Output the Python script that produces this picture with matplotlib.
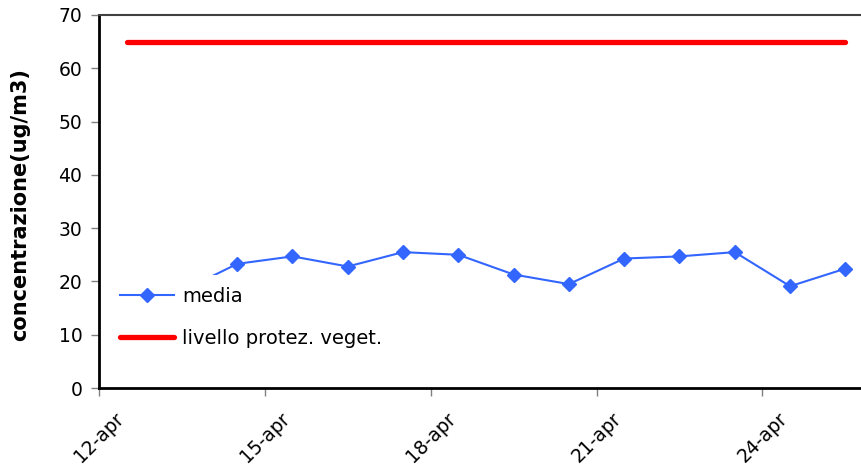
import matplotlib
matplotlib.use("Agg")
import matplotlib.pyplot as plt
import numpy as np

plt.rcParams['font.family'] = ['DejaVu Sans']

dates = ["12-apr", "13-apr", "14-apr", "15-apr", "16-apr", "17-apr", "18-apr",
         "19-apr", "20-apr", "21-apr", "22-apr", "23-apr", "24-apr", "25-apr"]
media = [19.0, 18.2, 23.3, 24.7, 22.8, 25.5, 25.0, 21.3, 19.5, 24.3, 24.7, 25.5, 19.1, 22.4]
livello = [65] * 14
tick_idx = [0, 3, 6, 9, 12]

W, H = 862, 473
fig = plt.figure(figsize=(W / 100, H / 100), dpi=100)
left, right, bottom, top = 99, 873, 388, 15
ax = fig.add_axes([left / W, (H - bottom) / H, (right - left) / W, (bottom - top) / H])

x = np.arange(len(dates)) + 0.5
ax.plot(x, media, color='#3366FF', lw=1.5, marker='D', ms=7, label='media', zorder=3)
ax.plot(x, livello, color='#FF0000', lw=3.8, solid_capstyle='round',
        label='livello protez. veget.', zorder=3)

ax.set_xlim(0, 14)
ax.set_ylim(0, 70)
ax.set_yticks(range(0, 71, 10))
ax.set_xticks(tick_idx)
ax.set_xticklabels([dates[i] for i in tick_idx], rotation=45, ha='center')
ax.tick_params(axis='both', labelsize=13.5, direction='out', length=6, color='#808080', width=1)
ax.tick_params(axis='x', pad=9)
ax.tick_params(axis='y', pad=6)

for s in ['left', 'bottom']:
    ax.spines[s].set_linewidth(2)
    ax.spines[s].set_color('black')
ax.spines['top'].set_linewidth(1.5)
ax.spines['top'].set_color('#404040')
ax.spines['right'].set_visible(False)

ax.set_ylabel('concentrazione(ug/m3)', fontsize=15, fontweight='bold')
ax.yaxis.set_label_coords(-69 / (right - left), (bottom - 205) / (bottom - top))

leg = ax.legend(loc='upper left', bbox_to_anchor=(9 / (right - left), (bottom - 275) / (bottom - top)),
                frameon=True, fontsize=14, labelspacing=1.2, handlelength=2.8,
                handletextpad=0.4, borderpad=0.6, borderaxespad=0, fancybox=False)
leg.get_frame().set_edgecolor('none')
leg.get_frame().set_facecolor('white')
leg.get_frame().set_alpha(1)
leg.set_zorder(5)

fig.savefig('out.png', dpi=100)
